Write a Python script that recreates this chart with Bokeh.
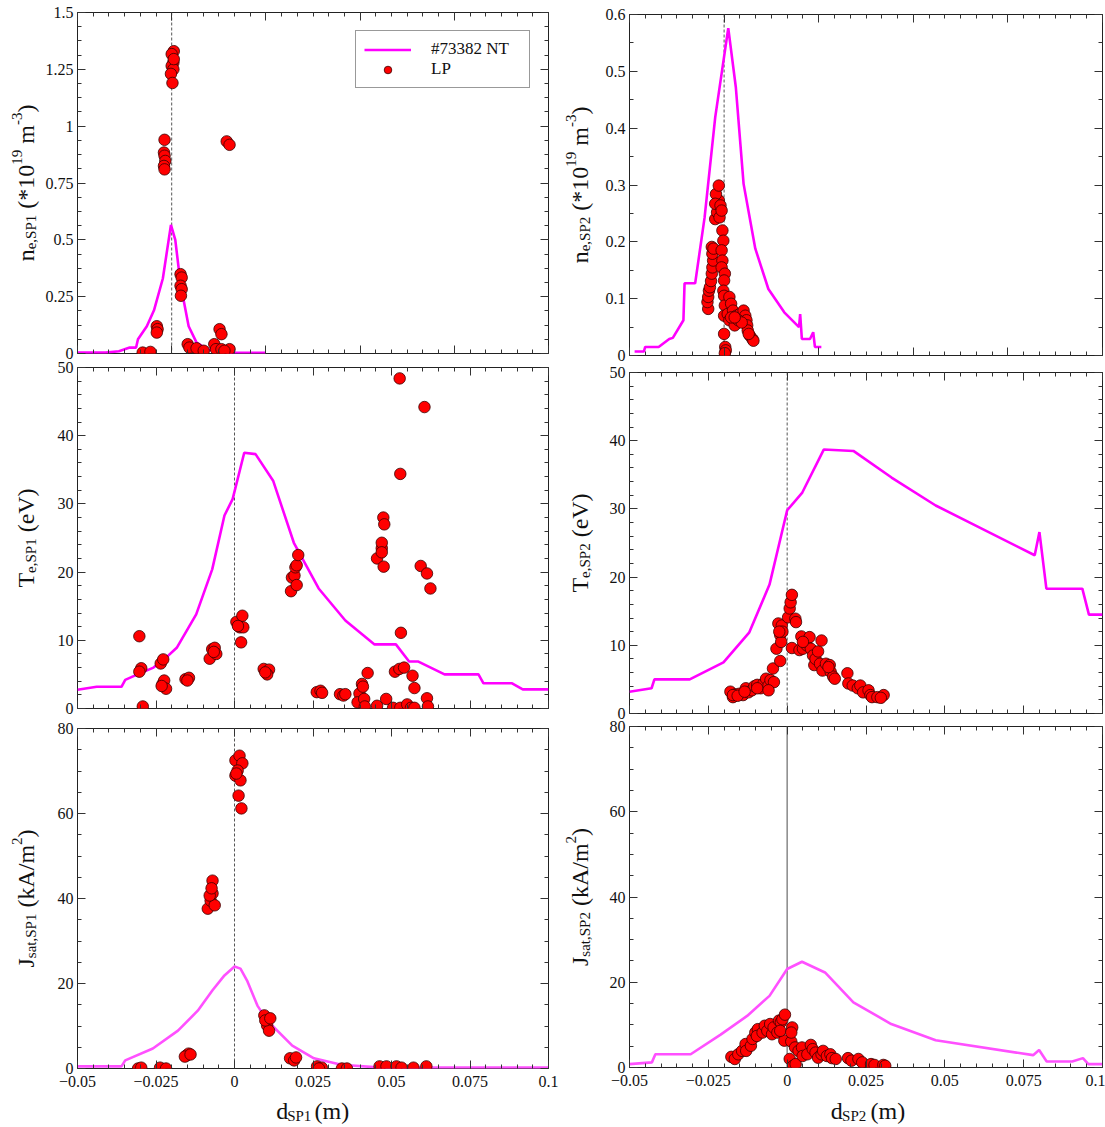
import math
from bokeh.plotting import figure
from bokeh.layouts import row, column
from bokeh.models import (Range1d, SingleIntervalTicker, LinearAxis, CustomJSTickFormatter,
                          Span, Legend, LegendItem)
from bokeh.core.properties import value
from bokeh.embed import file_html
from bokeh.resources import INLINE

FONT = "Liberation Serif"

# ---------------- data ----------------
# SP1 density (top left)
ne1_line_x = [-0.05, -0.035, -0.028, -0.0223, -0.0189, -0.0179, -0.0132, -0.0094, -0.0047, -0.0004,
              0.0019, 0.0047, 0.009, 0.0132, 0.0188, 0.0226, 0.032, 0.05]
ne1_line_y = [0.004, 0.004, 0.01, 0.026, 0.026, 0.063, 0.12, 0.19, 0.33, 0.566,
              0.50, 0.305, 0.12, 0.048, 0.019, 0.012, 0.004, 0.003]
ne1_lp_x = [-0.0154, -0.0113, -0.0079, -0.0075, -0.0079, -0.0038, -0.0041, -0.0038, -0.0034, -0.0041,
            -0.0038, 0.0011, 0.0, 0.0009, 0.0, 0.0009, -0.0004, 0.0004, 0.0011, 0.0047,
            0.0053, 0.0047, 0.0053, 0.0049, 0.0085, 0.0094, 0.0132, 0.017, 0.0226, 0.0235,
            0.0254, 0.0264, 0.0264, 0.0292, 0.0307, 0.0307, 0.028]
ne1_lp_y = [0.004, 0.007, 0.12, 0.107, 0.092, 0.94, 0.884, 0.87, 0.847, 0.825,
            0.81, 1.33, 1.317, 1.28, 1.265, 1.25, 1.23, 1.19, 1.295, 0.349,
            0.334, 0.298, 0.283, 0.254, 0.041, 0.026, 0.023, 0.012, 0.041, 0.019,
            0.107, 0.085, 0.019, 0.933, 0.918, 0.019, 0.012]

# SP2 density (top right)
ne2_line_x = [-0.0473, -0.0424, -0.0417, -0.0346, -0.029, -0.0271, -0.0215, -0.0209, -0.0153, -0.0103,
              -0.0047, 0.0022, 0.0062, 0.0103, 0.0165, 0.0234, 0.0318, 0.0396, 0.0402, 0.0411,
              0.0454, 0.0471, 0.048, 0.0514]
ne2_line_y = [0.007, 0.007, 0.015, 0.015, 0.029, 0.031, 0.062, 0.127, 0.127, 0.243,
              0.419, 0.576, 0.472, 0.302, 0.188, 0.117, 0.076, 0.050, 0.073, 0.029,
              0.029, 0.041, 0.015, 0.015]
ne2_lp_x = [-0.0084, -0.0088, -0.0084, -0.008, -0.0075, -0.0069, -0.0065, -0.0062, -0.0058, -0.0062,
            -0.0065, -0.0056, -0.0047, -0.0037, -0.0028, -0.0043, -0.0028, -0.0047, -0.0019, -0.0024,
            -0.0013, -0.0009, -0.0004, -0.0013, -0.0009, -0.0013, 0.0004, 0.0, -0.0004, 0.0,
            0.0004, 0.0, 0.0, 0.0006, 0.0009, 0.0004, 0.0028, 0.0037, 0.0019, 0.0028,
            0.0047, 0.0056, 0.0065, 0.0084, 0.0103, 0.0112, 0.0118, 0.0122, 0.0125, 0.0136,
            0.015, 0.0155, 0.013, 0.0075, 0.0093, 0.0037, 0.0056]
ne2_lp_y = [0.082, 0.094, 0.103, 0.114, 0.12, 0.131, 0.144, 0.155, 0.167, 0.179,
            0.191, 0.188, 0.24, 0.252, 0.273, 0.284, 0.299, 0.267, 0.264, 0.243,
            0.255, 0.22, 0.202, 0.185, 0.167, 0.155, 0.144, 0.132, 0.114, 0.105,
            0.088, 0.07, 0.038, 0.015, 0.009, 0.004, 0.103, 0.091, 0.073, 0.062,
            0.079, 0.053, 0.07, 0.073, 0.079, 0.07, 0.062, 0.053, 0.044, 0.035,
            0.029, 0.026, 0.038, 0.062, 0.058, 0.067, 0.067]

# SP1 temperature (middle left)
te1_line_x = [-0.05, -0.0439, -0.036, -0.0348, -0.0309, -0.0258, -0.0224, -0.0184, -0.0122, -0.0071,
              -0.0032, -0.0006, 0.0031, 0.0067, 0.0123, 0.0189, 0.0268, 0.0353, 0.0446, 0.0514,
              0.0556, 0.0584, 0.0669, 0.0777, 0.0793, 0.0884, 0.0918, 0.1]
te1_line_y = [2.74, 3.18, 3.18, 4.2, 5.0, 6.0, 7.2, 8.9, 13.8, 20.4,
              28.3, 30.7, 37.5, 37.3, 33.4, 24.3, 17.6, 12.9, 9.4, 9.4,
              6.9, 6.9, 5.0, 5.0, 3.7, 3.7, 2.8, 2.8]
te1_lp_x = [-0.0303, -0.0297, -0.0303, -0.0292, -0.0235, -0.0227, -0.0229, -0.0224, -0.0218, -0.0232,
            -0.0156, -0.0145, -0.015, -0.0079, -0.0071, -0.0063, -0.0058, -0.0066, 0.0006, 0.0025,
            0.0017, 0.0028, 0.0021, 0.0011, 0.0093, 0.011, 0.0104, 0.0098, 0.018, 0.0183,
            0.0191, 0.0198, 0.0194, 0.0198, 0.0203, 0.0262, 0.0274, 0.0279, 0.0336, 0.0347,
            0.0353, 0.0398, 0.0406, 0.0409, 0.0392, 0.0413, 0.0415, 0.0424, 0.0454, 0.0483,
            0.0454, 0.0469, 0.0469, 0.0474, 0.0477, 0.0475, 0.0469, 0.0511, 0.0525, 0.054,
            0.0526, 0.0528, 0.053, 0.0505, 0.0528, 0.055, 0.0562, 0.0573, 0.0567, 0.0573,
            0.0605, 0.0593, 0.0613, 0.0624, 0.0613, 0.0616]
te1_lp_y = [10.6, 5.9, 5.4, 0.3, 6.6, 7.2, 3.6, 4.1, 2.9, 3.3,
            4.3, 4.5, 4.1, 7.3, 8.7, 8.9, 8.0, 8.3, 12.7, 13.6,
            11.9, 11.9, 9.7, 12.1, 5.8, 5.7, 5.0, 5.3, 17.2, 19.2,
            19.5, 18.1, 20.7, 21.0, 22.5, 2.4, 2.6, 2.3, 2.1, 1.9,
            2.1, 2.2, 3.6, 3.2, 0.9, 1.4, 0.3, 5.2, 0.4, 1.4,
            22.0, 23.5, 24.3, 28.0, 27.0, 20.8, 22.9, 5.4, 5.8, 6.0,
            48.4, 34.4, 11.1, 0.1, 0.1, 0.6, 0.1, 0.1, 4.8, 3.0,
            44.2, 20.9, 19.8, 17.6, 1.5, 0.3]

# SP2 temperature (middle right)
te2_line_x = [-0.05, -0.043, -0.0421, -0.0309, -0.0202, -0.012, -0.0056, 0.0, 0.0048, 0.0116,
              0.021, 0.0331, 0.0471, 0.0785, 0.08, 0.0822, 0.0936, 0.0957, 0.1]
te2_line_y = [3.2, 3.7, 5.0, 5.0, 7.5, 11.9, 18.9, 29.8, 32.4, 38.7,
              38.5, 34.6, 30.5, 23.2, 26.6, 18.3, 18.3, 14.5, 14.5]
te2_lp_x = [-0.018, -0.0172, -0.0163, -0.0151, -0.014, -0.0131, -0.0123, -0.0112, -0.0104, -0.0095,
            -0.0084, -0.0075, -0.0067, -0.0059, -0.0053, -0.0045, -0.0042, -0.0034, -0.0022, -0.0028,
            -0.0022, -0.0017, -0.0019, -0.0015, -0.0025, -0.0172, -0.0157, -0.0135, -0.0095, -0.0059,
            0.0003, 0.0008, 0.0011, 0.0015, 0.0026, 0.0028, 0.0015, 0.0039, 0.0045, 0.005,
            0.0062, 0.0071, 0.0075, 0.0082, 0.0086, 0.009, 0.0098, 0.0104, 0.0109, 0.0112,
            0.0123, 0.0135, 0.0138, 0.0146, 0.0151, 0.0131, 0.005, 0.0191, 0.0194, 0.0208,
            0.0224, 0.0232, 0.0241, 0.0258, 0.0264, 0.0269, 0.0286, 0.0306, 0.0297]
te2_lp_y = [3.2, 2.4, 2.8, 2.9, 2.7, 3.7, 3.1, 3.4, 4.0, 4.2,
            3.7, 4.4, 5.1, 4.1, 4.9, 6.6, 4.6, 9.5, 7.7, 13.2,
            11.5, 12.9, 10.5, 12.0, 12.0, 2.7, 2.6, 3.2, 3.7, 3.4,
            14.1, 15.4, 16.3, 17.4, 13.9, 13.4, 9.6, 9.3, 11.3, 9.5,
            10.0, 11.2, 9.5, 8.5, 7.1, 8.0, 9.1, 7.3, 10.7, 6.3,
            7.3, 7.1, 6.1, 5.4, 5.1, 6.8, 10.5, 5.9, 4.4, 4.1,
            3.7, 4.1, 3.1, 3.4, 2.7, 2.4, 2.4, 2.7, 2.3]

# SP1 saturation current (bottom left)
js1_line_x = [-0.05, -0.036, -0.0348, -0.026, -0.018, -0.0117, -0.007, -0.0032, 0.0, 0.0019,
              0.004, 0.0073, 0.0104, 0.0184, 0.0253, 0.034, 0.0468, 0.1]
js1_line_y = [0.5, 0.5, 1.9, 4.7, 8.9, 13.6, 18.4, 21.9, 24.0, 23.5,
              20.7, 14.8, 11.3, 5.4, 2.4, 0.9, 0.2, 0.2]
js1_lp_x = [-0.0085, -0.0076, -0.007, -0.007, -0.0063, -0.0079, -0.0073,
            0.0003, 0.0016, 0.0025, 0.001, 0.0003, 0.0019, 0.0013, 0.0022, 0.0006,
            0.0095, 0.0104, 0.011, 0.0098, 0.0114,
            -0.0152, -0.0146, -0.0158, -0.014,
            -0.0237, -0.0218, -0.0307, -0.0297,
            0.0177, 0.019, 0.0196, 0.0263, 0.0278, 0.0269, 0.0342, 0.0358,
            0.0462, 0.0484, 0.0516, 0.0532, 0.057, 0.0611]
js1_lp_y = [37.6, 39.5, 41.2, 44.2, 38.4, 40.7, 42.4,
            72.5, 73.6, 71.8, 70.1, 68.9, 67.8, 64.2, 61.2, 69.4,
            12.5, 10.1, 8.9, 11.3, 11.8,
            3.1, 3.5, 2.8, 3.3,
            0.2, 0.0, 0.0, 0.2,
            2.4, 1.9, 2.6, 0.5, 0.2, 0.0, 0.0, 0.0,
            0.5, 0.5, 0.5, 0.2, 0.2, 0.5]

# SP2 saturation current (bottom right)
js2_line_x = [-0.05, -0.0429, -0.0418, -0.0306, -0.0211, -0.0127, -0.0056, 0.0, 0.0047, 0.012,
              0.021, 0.033, 0.0471, 0.078, 0.0799, 0.0823, 0.0904, 0.0938, 0.0955, 0.1]
js2_line_y = [0.8, 1.2, 3.1, 3.1, 7.7, 12.1, 16.8, 23.1, 24.8, 22.3,
              15.3, 10.2, 6.4, 2.9, 4.1, 1.4, 1.4, 2.2, 0.8, 0.8]
js2_lp_x = [-0.0177, -0.0166, -0.0155, -0.0143, -0.0132, -0.013, -0.0115, -0.011, -0.0101, -0.0093,
            -0.0096, -0.0078, -0.0071, -0.0063, -0.0054, -0.0048, -0.0043, -0.0031, -0.0026, -0.002,
            -0.0015, -0.0007, -0.0009, -0.0022, 0.0008, 0.0013, 0.0016, 0.0013, 0.0019, 0.0027,
            0.0025, 0.0036, 0.0047, 0.0049, 0.0064, 0.0075, 0.0081, 0.009, 0.0098, 0.0109,
            0.0114, 0.0126, 0.0137, 0.0142, 0.0154, 0.0193, 0.0204, 0.0226, 0.0238, 0.0266,
            0.0277, 0.0305, 0.0311]
js2_lp_y = [2.5, 2.0, 3.1, 3.9, 5.5, 3.9, 5.1, 6.7, 8.2, 9.0,
            7.4, 8.2, 9.8, 8.6, 10.2, 7.8, 9.4, 8.2, 11.0, 10.6,
            11.3, 12.4, 6.3, 8.6, 2.0, 6.1, 9.4, 8.2, 0.4, 0.8,
            4.7, 3.9, 4.7, 2.7, 3.1, 5.3, 4.3, 3.5, 2.3, 3.1,
            3.9, 2.7, 3.1, 2.2, 2.0, 2.2, 1.6, 2.0, 1.2, 0.8,
            0.6, 0.6, 0.4]

legend_labels = ["#73382 NT", "LP"]

# ---------------- helpers ----------------
FMT = """
const v = Math.round(tick * 10000) / 10000;
if (v < 0) { return '\u2212' + String(-v); }
return String(v);
"""
FMT_EMPTY = "return '';"
EPS = 1e-9

TIMES_W = {' ': 250, '#': 500, '(': 333, ')': 333, '*': 500, ',': 250, '-': 333, '/': 278, '.': 250,
           'A': 722, 'J': 389, 'N': 722, 'L': 611, 'P': 556, 'S': 556, 'T': 611, 'V': 722,
           'a': 444, 'd': 500, 'e': 444, 'k': 500, 'm': 778, 'n': 500, 's': 389, 't': 278}


def tw(s, size):
    return sum(TIMES_W.get(c, 500) for c in s) * size / 1000.0


def style_axis(ax, labels, standoff):
    ax.axis_line_color = None
    ax.major_tick_in = 8
    ax.major_tick_out = 0
    ax.minor_tick_in = 4
    ax.minor_tick_out = 0
    ax.major_tick_line_color = "#333333"
    ax.minor_tick_line_color = "#333333"
    ax.major_label_text_font = FONT
    ax.major_label_text_color = "#111111"
    if labels:
        ax.major_label_text_font_size = "16px"
        ax.major_label_standoff = standoff
    else:
        ax.major_label_text_font_size = "1px"
        ax.major_label_standoff = 0


def make_fig(width, height, xr, yr, xint, xminor, yint, yminor, borders, show_xlabels):
    p = figure(width=width, height=height,
               x_range=Range1d(xr[0] - EPS, xr[1] + EPS), y_range=Range1d(yr[0], yr[1] * (1 + 1e-7)),
               output_backend="svg", toolbar_location=None, tools="",
               x_axis_type=None, y_axis_type=None,
               min_border_left=borders[0], min_border_right=borders[1],
               min_border_top=borders[2], min_border_bottom=borders[3])
    p.outline_line_color = "#222222"
    p.outline_line_width = 1
    p.background_fill_color = "white"
    p.border_fill_color = "white"
    xt = SingleIntervalTicker(interval=xint, num_minor_ticks=xminor)
    yt = SingleIntervalTicker(interval=yint, num_minor_ticks=yminor)
    for side, tk, lab, so in [("below", xt, show_xlabels, 7), ("above", xt, False, 0),
                              ("left", yt, True, 4), ("right", yt, False, 0)]:
        fmt = CustomJSTickFormatter(code=FMT if lab else FMT_EMPTY)
        ax = LinearAxis(ticker=tk, formatter=fmt)
        style_axis(ax, lab, so)
        p.add_layout(ax, side)
    return p


def text_fig(width, height):
    f = figure(width=width, height=height, x_range=Range1d(0, width), y_range=Range1d(0, height),
               output_backend="svg", toolbar_location=None, tools="",
               x_axis_type=None, y_axis_type=None,
               min_border_left=0, min_border_right=0, min_border_top=0, min_border_bottom=0)
    f.outline_line_color = None
    f.background_fill_color = "white"
    f.border_fill_color = "white"
    return f


def put_text(f, x, y, t, size, angle=0.0):
    f.text(x=[x], y=[y], text=[t], angle=angle, text_font=value(FONT),
           text_font_size=value(f"{size}px"), text_color="#111111",
           text_align="left", text_baseline="alphabetic")


def vlabel(f, parts, yc, xb):
    total = sum(tw(t, s) for t, s, d in parts)
    y = yc - total / 2.0
    for t, s, d in parts:
        lead = len(t) - len(t.lstrip(' '))
        put_text(f, xb - d, y + tw(' ' * lead, s), t.strip(' '), s, math.pi / 2)
        y += tw(t, s)


def hlabel(f, parts, xc, yb):
    total = sum(tw(t, s) for t, s, d in parts)
    x = xc - total / 2.0
    for t, s, d in parts:
        lead = len(t) - len(t.lstrip(' '))
        put_text(f, x + tw(' ' * lead, s), yb + d, t.strip(' '), s)
        x += tw(t, s)


def add_data(p, lx, ly, px, py, color="#ff00ff", dash=True):
    p.add_layout(Span(location=0, dimension="height", line_color="#555555" if dash else "#888888",
                      line_width=1 if dash else 1.5,
                      line_dash="3 2" if dash else "solid", level="underlay"))
    rl = p.line(lx, ly, line_color=color, line_width=2.6)
    rp = p.scatter(px, py, size=11.5, fill_color="#ff0000", line_color="#3a0000", line_width=0.8)
    return rl, rp


BIG, SMALL = 24, 15
SUB, SUP = -5, 9
H = 1127

STRIP_L, STRIP_R = 42, 42
PW_L, PW_R = 518, 503          # plot figure widths
BL_L, BL_R = 32, 25            # left min borders (frame at 74 and 627)

# ---------------- left column ----------------
p1 = make_fig(PW_L, 360, (-0.05, 0.2), (0, 1.5), 0.05, 6, 0.25, 4, (BL_L, 12, 12, 7), False)
rl, rp = add_data(p1, ne1_line_x, ne1_line_y, ne1_lp_x, ne1_lp_y)
leg = Legend(items=[LegendItem(label=legend_labels[0], renderers=[rl]),
                    LegendItem(label=legend_labels[1], renderers=[rp])],
             location="top_right", margin=18, padding=8, spacing=0,
             glyph_width=47, glyph_height=19, label_height=19, label_width=90, label_standoff=20,
             label_text_font=FONT, label_text_font_size="17px", label_text_color="#111111",
             border_line_color="#333333", border_line_width=1, background_fill_alpha=1.0)
p1.add_layout(leg)

p2 = make_fig(PW_L, 358, (-0.05, 0.1), (0, 50), 0.025, 5, 10, 5, (BL_L, 12, 7, 10), False)
add_data(p2, te1_line_x, te1_line_y, te1_lp_x, te1_lp_y)

p3 = make_fig(PW_L, 378, (-0.05, 0.1), (0, 80), 0.025, 5, 20, 4, (BL_L, 12, 10, 28), True)
add_data(p3, js1_line_x, js1_line_y, js1_lp_x, js1_lp_y, color="#ff50ff")

xl_L = text_fig(PW_L, 31)
hlabel(xl_L, [("d", BIG, 0), ("SP1", SMALL, SUB), (" (m)", BIG, 0)], 311 - STRIP_L - 12, 17)

strip_L = text_fig(STRIP_L, H)
XB_L = 25
vlabel(strip_L, [("n", BIG, 0), ("e,SP1", SMALL, SUB), (" (*10", BIG, 0), ("19", SMALL, SUP),
                 (" m", BIG, 0), ("-3", SMALL, SUP), (")", BIG, 0)], H - 182.5, XB_L)
vlabel(strip_L, [("T", BIG, 0), ("e,SP1", SMALL, SUB), (" (eV)", BIG, 0)], H - 537.5, XB_L)
vlabel(strip_L, [("J", BIG, 0), ("sat,SP1", SMALL, SUB), (" (kA/m", BIG, 0), ("2", SMALL, SUP),
                 (")", BIG, 0)], H - 898, XB_L)

# ---------------- right column ----------------
p4 = make_fig(PW_R, 362, (-0.05, 0.2), (0, 0.6), 0.05, 6, 0.1, 2, (BL_R, 3, 14, 7), False)
add_data(p4, ne2_line_x, ne2_line_y, ne2_lp_x, ne2_lp_y)

p5 = make_fig(PW_R, 357, (-0.05, 0.1), (0, 50), 0.025, 5, 10, 5, (BL_R, 3, 10, 6), False)
add_data(p5, te2_line_x, te2_line_y, te2_lp_x, te2_lp_y)

p6 = make_fig(PW_R, 377, (-0.05, 0.1), (0, 80), 0.025, 5, 20, 4, (BL_R, 3, 7, 29), True)
add_data(p6, js2_line_x, js2_line_y, js2_lp_x, js2_lp_y, color="#ff50ff", dash=False)

xl_R = text_fig(PW_R, 31)
hlabel(xl_R, [("d", BIG, 0), ("SP2", SMALL, SUB), (" (m)", BIG, 0)], 864.5 - 602 - 10, 17)

strip_R = text_fig(STRIP_R, H)
XB_R = 19
vlabel(strip_R, [("n", BIG, 0), ("e,SP2", SMALL, SUB), (" (*10", BIG, 0), ("19", SMALL, SUP),
                 (" m", BIG, 0), ("-3", SMALL, SUP), (")", BIG, 0)], H - 184.5, XB_R)
vlabel(strip_R, [("T", BIG, 0), ("e,SP2", SMALL, SUB), (" (eV)", BIG, 0)], H - 542.5, XB_R)
vlabel(strip_R, [("J", BIG, 0), ("sat,SP2", SMALL, SUB), (" (kA/m", BIG, 0), ("2", SMALL, SUP),
                 (")", BIG, 0)], H - 896.5, XB_R)

layout = row(strip_L, column(p1, p2, p3, xl_L, spacing=0),
             strip_R, column(p4, p5, p6, xl_R, spacing=0), spacing=0)

open("out.html", "w").write(file_html(layout, INLINE))
